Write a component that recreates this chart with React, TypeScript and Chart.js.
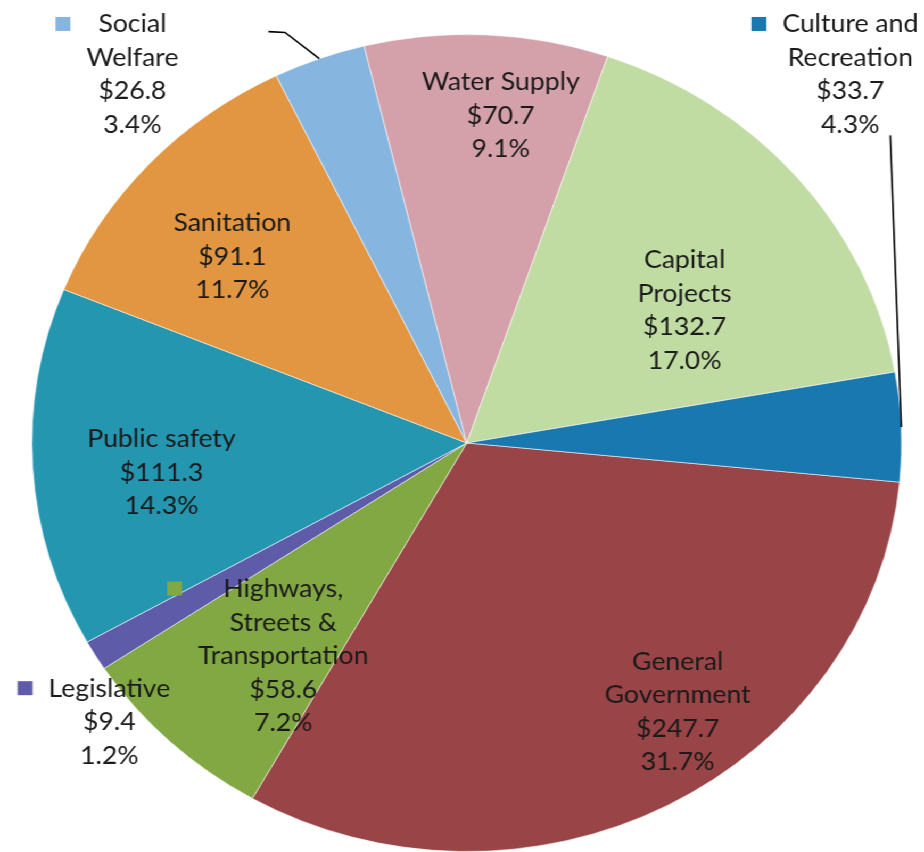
import React, { useEffect, useRef } from "react";
import { Chart, registerables } from "chart.js";

Chart.register(...registerables);

// ---- Data ----
const categories = [
  "General Government",
  "Highways, Streets & Transportation",
  "Legislative",
  "Public safety",
  "Sanitation",
  "Social Welfare",
  "Water Supply",
  "Capital Projects",
  "Culture and Recreation",
];
const amounts = [247.7, 58.6, 9.4, 111.3, 91.1, 26.8, 70.7, 132.7, 33.7];
const percentLabels = ["31.7%", "7.2%", "1.2%", "14.3%", "11.7%", "3.4%", "9.1%", "17.0%", "4.3%"];
const nameLines = [
  ["General", "Government"],
  ["Highways,", "Streets &", "Transportation"],
  ["Legislative"],
  ["Public safety"],
  ["Sanitation"],
  ["Social", "Welfare"],
  ["Water Supply"],
  ["Capital", "Projects"],
  ["Culture and", "Recreation"],
];
const sliceColors = [
  "#994446",
  "#82A844",
  "#5E5BA8",
  "#2596B0",
  "#E29641",
  "#86B6E0",
  "#D4A0AA",
  "#C0DCA2",
  "#1A78B0",
];

// ---- Label placement (relative to pie centre, in units of radius) ----
const labelPlacement = [
  { dx: 0.485, dy: 0.555, key: false },
  { dx: -0.422, dy: 0.377, key: true },
  { dx: -0.822, dy: 0.621, key: true },
  { dx: -0.702, dy: 0.01, key: false },
  { dx: -0.539, dy: -0.518, key: false },
  { dx: -0.769, dy: -1.005, key: true },
  { dx: 0.078, dy: -0.863, key: false },
  { dx: 0.501, dy: -0.428, key: false },
  { dx: 0.882, dy: -1.005, key: true },
];
// leader lines: points (relative units) followed by arc mid-edge
const leaderLines: Record<number, number[][]> = {
  5: [
    [-0.456, -1.007],
    [-0.418, -1.005],
  ],
  8: [[0.974, -0.753]],
};

const FONT = '25px Lato, "Noto Sans", sans-serif';
const LINE_H = 33.5;
const KEY_SIZE = 14;
const KEY_GAP = 15;

const labelPlugin = {
  id: "sliceLabels",
  afterDatasetsDraw(chart: any) {
    const meta = chart.getDatasetMeta(0);
    if (!meta || !meta.data.length) return;
    const ctx = chart.ctx as CanvasRenderingContext2D;
    const first = meta.data[0].getProps(["x", "y", "outerRadius"], true);
    const cx = first.x;
    const cy = first.y;
    const R = first.outerRadius;
    ctx.save();

    // leader lines
    ctx.strokeStyle = "#000000";
    ctx.lineWidth = 1.6;
    Object.keys(leaderLines).forEach((k) => {
      const i = Number(k);
      const arc = meta.data[i].getProps(["startAngle", "endAngle", "outerRadius"], true);
      const mid = (arc.startAngle + arc.endAngle) / 2;
      ctx.beginPath();
      leaderLines[i].forEach((p, j) => {
        const px = cx + p[0] * R;
        const py = cy + p[1] * R;
        if (j === 0) ctx.moveTo(px, py);
        else ctx.lineTo(px, py);
      });
      ctx.lineTo(cx + Math.cos(mid) * R, cy + Math.sin(mid) * R);
      ctx.stroke();
    });

    // text labels
    ctx.font = FONT;
    ctx.fillStyle = "#1a1a1a";
    ctx.textAlign = "center";
    ctx.textBaseline = "alphabetic";
    categories.forEach((_, i) => {
      const lines = [...nameLines[i], "$" + amounts[i].toFixed(1), percentLabels[i]];
      const pl = labelPlacement[i];
      const bx = cx + pl.dx * R;
      const by = cy + pl.dy * R;
      let maxW = 0;
      lines.forEach((l) => {
        maxW = Math.max(maxW, ctx.measureText(l).width);
      });
      lines.forEach((l, j) => {
        ctx.fillText(l, bx, by + j * LINE_H);
      });
      if (pl.key) {
        const left = bx - maxW / 2;
        ctx.fillStyle = sliceColors[i];
        ctx.fillRect(left - KEY_GAP - KEY_SIZE, by - 8.5 - KEY_SIZE / 2, KEY_SIZE, KEY_SIZE);
        ctx.fillStyle = "#1a1a1a";
      }
    });
    ctx.restore();
  },
};

export default function App() {
  const canvasRef = useRef<HTMLCanvasElement | null>(null);

  useEffect(() => {
    const canvas = canvasRef.current;
    if (!canvas) return;
    const chart = new Chart(canvas, {
      type: "pie",
      data: {
        labels: categories,
        datasets: [
          {
            data: amounts,
            backgroundColor: sliceColors,
            borderColor: "rgba(255,255,255,0.55)",
            borderWidth: 1,
          },
        ],
      },
      options: {
        responsive: false,
        animation: false,
        rotation: 95.5,
        layout: { padding: { left: 29.5, right: 20.5, top: 34, bottom: 0 } },
        plugins: {
          legend: { display: false },
          tooltip: { enabled: false },
        },
      },
      plugins: [labelPlugin],
    });
    return () => chart.destroy();
  }, []);

  return (
    <div
      style={{
        position: "absolute",
        left: 0,
        top: 0,
        width: 868,
        height: 852,
        transform: "scaleX(1.0645)",
        transformOrigin: "0 0",
        background: "#ffffff",
      }}
    >
      <canvas ref={canvasRef} width={868} height={852} style={{ display: "block" }} />
    </div>
  );
}
